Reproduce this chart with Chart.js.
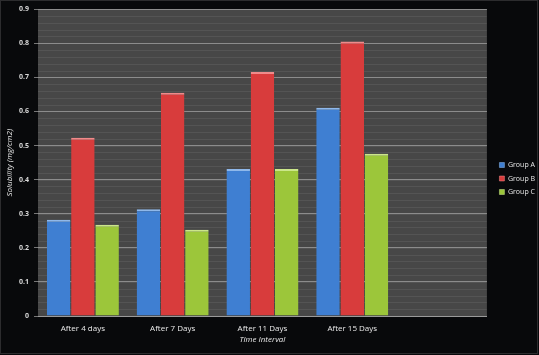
<!DOCTYPE html>
<html>
<head>
<meta charset="utf-8">
<script src="https://cdn.jsdelivr.net/npm/chart.js@4.4.1/dist/chart.umd.min.js"></script>
<style>
  html, body { margin: 0; padding: 0; background: #08090b; }
  #wrap { width: 539px; height: 355px; }
</style>
</head>
<body>
<div id="wrap"><canvas id="chart" width="539" height="355"></canvas></div>
<script>
// data
const categories = ['After 4 days', 'After 7 Days', 'After 11 Days', 'After 15 Days'];
const groupA = [0.282, 0.313, 0.431, 0.611];
const groupB = [0.523, 0.655, 0.716, 0.805];
const groupC = [0.268, 0.253, 0.431, 0.476];
const yTicks = [0, 0.1, 0.2, 0.3, 0.4, 0.5, 0.6, 0.7, 0.8, 0.9];

// dark plot panel with faint stripes, black page behind it
const panel = {
  id: 'panel',
  afterLayout(chart) {
    // nudge the legend a little to the right, like the original
    chart.legend.left += 6;
    chart.legend.right += 6;
  },
  beforeDraw(chart) {
    const { ctx, chartArea: a, scales } = chart;
    ctx.save();
    ctx.fillStyle = '#08090b';
    ctx.fillRect(0, 0, chart.width, chart.height);
    ctx.strokeStyle = '#2c2c2e';
    ctx.lineWidth = 1;
    ctx.strokeRect(0.5, 0.5, chart.width - 2, chart.height - 2);
    ctx.fillStyle = '#474747';
    ctx.fillRect(a.left, a.top, a.right - a.left, a.bottom - a.top);
    ctx.strokeStyle = 'rgba(255,255,255,0.07)';
    for (let v = 0; v <= 0.9; v += 0.02) {
      const y = Math.round(scales.y.getPixelForValue(v)) + 0.5;
      ctx.beginPath();
      ctx.moveTo(a.left, y);
      ctx.lineTo(a.right, y);
      ctx.stroke();
    }
    ctx.restore();
  }
};

const font = "'Open Sans', 'Liberation Sans', sans-serif";

new Chart(document.getElementById('chart'), {
  type: 'bar',
  data: {
    labels: categories,
    datasets: [
      { label: 'Group A', data: groupA, backgroundColor: '#3f7fd2', borderColor: '#8fb8ea' },
      { label: 'Group B', data: groupB, backgroundColor: '#d83c3c', borderColor: '#f08a8a' },
      { label: 'Group C', data: groupC, backgroundColor: '#9cc63a', borderColor: '#cbe68a' }
    ].map(d => Object.assign(d, {
      borderWidth: { top: 2, left: 0, right: 0, bottom: 0 },
      borderSkipped: false,
      barPercentage: 0.97,
      categoryPercentage: 0.81
    }))
  },
  options: {
    responsive: false,
    animation: false,
    layout: { padding: { top: 2, right: 0, left: 0, bottom: 0 } },
    scales: {
      x: {
        labels: [...categories, ''],
        grid: { display: false },
        border: { color: '#9a9a9a' },
        afterFit: s => { s.height = 39; },
        ticks: { color: '#e8e8e8', font: { family: font, size: 8 }, padding: 0, maxRotation: 0 },
        title: { display: true, text: 'Time Interval', color: '#e8e8e8', font: { family: font, size: 8, style: 'italic' }, padding: { top: 4, bottom: 10 } }
      },
      y: {
        min: 0,
        max: 0.9,
        afterBuildTicks: s => { s.ticks = yTicks.map(v => ({ value: v })); },
        afterFit: s => { s.width = 38; },
        grid: { color: '#8c8c8c', tickColor: '#777', tickLength: 4 },
        border: { display: false },
        ticks: { color: '#d8d8d8', font: { family: font, size: 7, weight: 'bold' }, padding: 5 },
        title: { display: true, text: 'Solubility (mg/cm2)', color: '#e8e8e8', font: { family: font, size: 8, style: 'italic' }, padding: { top: 5, bottom: 3 } }
      }
    },
    plugins: {
      legend: {
        position: 'right',
        labels: {
          color: '#e8e8e8',
          font: { family: font, size: 7 },
          boxWidth: 5,
          boxHeight: 5,
          padding: 6.5
        }
      },
      tooltip: { enabled: false }
    }
  },
  plugins: [panel]
});
</script>
</body>
</html>
